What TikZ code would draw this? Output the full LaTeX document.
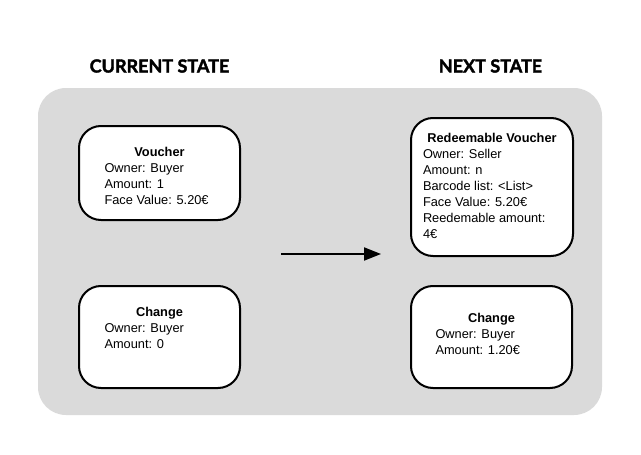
\documentclass[tikz,border=0pt]{standalone}
\usepackage{fontspec}
\setmainfont{Liberation Sans}
\newfontfamily\titlefont{Lato}[BoldFeatures={FakeBold=2}]
\usetikzlibrary{arrows.meta}
\definecolor{panelgray}{RGB}{218,218,218}
\begin{document}
\begin{tikzpicture}[x=1pt,y=-1pt,
  panel/.style={rectangle, rounded corners=28pt, fill=panelgray,
    minimum width=564pt, minimum height=327pt, inner sep=0pt},
  statebox/.style={rectangle, rounded corners=22pt, draw=black, line width=2pt,
    fill=white, minimum width=161pt, inner sep=0pt,
    font=\fontsize{12.8}{16}\selectfont},
  heading/.style={font=\titlefont\bfseries\fontsize{18}{20}\selectfont}]
 \useasboundingbox (0,0) rectangle (641,455);

 \node[panel] (bg) at (320,251.5) {};

 \node[heading] (cur) at (159.5,66) {CURRENT STATE};
 \node[heading] (nxt) at (490.5,66) {NEXT STATE};

 \node[statebox, minimum height=94pt] (voucher) at (159.5,173)
  {\begin{tabular}{@{}l@{}}\multicolumn{1}{@{}c@{}}{\rule{0pt}{19pt}\makebox[110pt]{\textbf{Voucher}}}\\
   Owner: Buyer\\ Amount: 1\\ Face Value: 5.20€\end{tabular}};
 \node[statebox, minimum height=102pt] (chg) at (159.5,337)
  {\begin{tabular}{@{}l@{}}\multicolumn{1}{@{}c@{}}{\makebox[110pt]{\textbf{Change}}}\\
   Owner: Buyer\\ Amount: 0\\[16pt]\end{tabular}};
 \node[statebox, minimum width=162pt, minimum height=138pt] (redeem) at (492,187)
  {\begin{tabular}{@{}l@{}}\multicolumn{1}{@{}c@{}}{\makebox[138pt]{\textbf{Redeemable Voucher}}}\\
   Owner: Seller\\ Amount: n\\ Barcode list: <List>\\ Face Value: 5.20€\\
   Reedemable amount:\\ 4€\end{tabular}};
 \node[statebox, minimum height=102pt] (newchg) at (491.5,337)
  {\begin{tabular}{@{}l@{}}\multicolumn{1}{@{}c@{}}{\makebox[112pt]{\textbf{Change}}}\\
   Owner: Buyer\\ Amount: 1.20€\\[4pt]\end{tabular}};

 \coordinate (from) at (281,254);
 \coordinate (to) at (381,254);
 \draw[line width=2pt, -{Triangle[length=17pt,width=13pt]}] (from) -- (to);

\end{tikzpicture}
\end{document}
